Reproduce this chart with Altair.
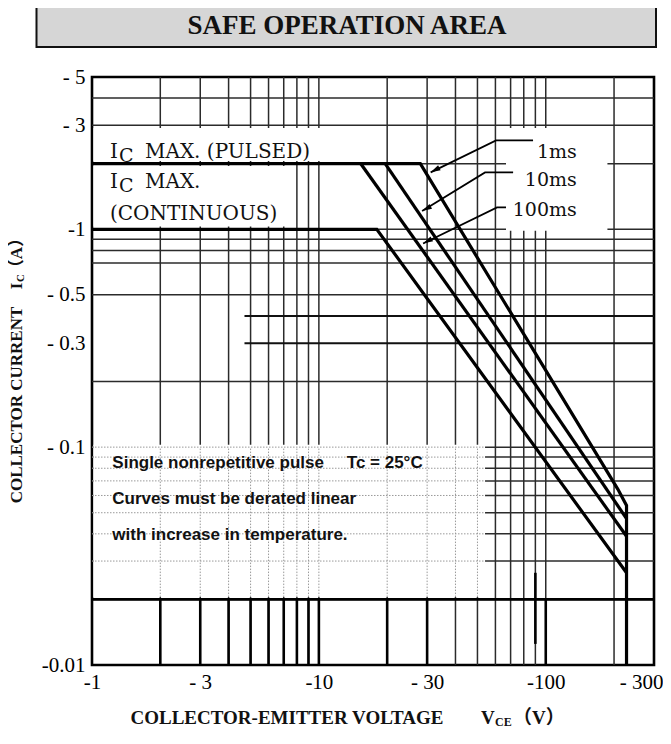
import json
import altair as alt
import pandas as pd

# ---------------- data ----------------
x_ticks = [1, 3, 10, 30, 100, 300]
x_tick_labels = ["-1", "- 3", "-10", "- 30", "-100", "- 300"]
y_ticks = [5, 3, 1, 0.5, 0.3, 0.1, 0.01]
y_tick_labels = ["- 5", "- 3", "-1", "- 0.5", "- 0.3", "- 0.1", "-0.01"]

grid_v = [2, 3, 4, 5, 6, 7, 8, 9, 10, 20, 30, 40, 50, 60, 70, 80, 90, 100, 200]
grid_i = [4, 3, 2, 1, 0.9, 0.8, 0.7, 0.5, 0.2, 0.1, 0.09, 0.08, 0.07, 0.06,
          0.05, 0.04, 0.03, 0.02]
grid_i_partial = [0.4, 0.3]
partial_from_v = 4.7

dotted_v = [2, 3, 4, 5, 6, 7, 8, 9, 10, 20, 30, 40, 50]
dotted_i = [0.1, 0.09, 0.08, 0.07, 0.06, 0.05, 0.04, 0.03]
dotted_v_max = 54
dotted_i_lo, dotted_i_hi = 0.0205, 0.1

heavy_v = [2, 3, 4, 5, 6, 7, 8, 9, 10, 20, 30, 100]
heavy_i = 0.02
stub_v, stub_i0, stub_i1 = 90, 0.0125, 0.0265

# white areas of the sheet (label boxes, dotted note area)
mask_v0 = [1.015, 1.015, 1.015, 66.8]
mask_v1 = [dotted_v_max, 15, 7.6, 187]
mask_i0 = [0.0205, 2.06, 1.03, 0.985]
mask_i1 = [0.1025, 2.92, 1.95, 2.92]

# safe operating area limits
soa_1ms_v = [1, 28, 208, 227, 227]
soa_1ms_i = [2, 2, 0.064, 0.054, 0.01]
soa_10ms_v = [19.6, 227]
soa_10ms_i = [2, 0.047]
soa_100ms_v = [15.3, 227]
soa_100ms_i = [2, 0.039]
soa_dc_v = [1, 18, 227]
soa_dc_i = [1, 1, 0.0265]

# leader lines to the curve labels
lead_names = ["1ms", "10ms", "100ms"]
lead_v = [[87.9, 60.4, 31.1], [71.8, 54.0, 28.5], [66.8, 61.0, 28.8]]
lead_i = [[2.56, 2.56, 1.825], [1.825, 1.825, 1.214], [1.26, 1.26, 0.861]]

label_v = 137
label_i = [2.261, 1.676, 1.221]

ic_v = 1.2
ic_i = [2.261, 1.647, 1.179]

note_v = 1.229
note_i = [0.085, 0.058, 0.0395]
note_text = ["Single nonrepetitive pulse", "Curves must be derated linear",
             "with increase in temperature."]
tc_v = 13.27
tc_text = "Tc = 25°C"

# ---------------- chart ----------------
W, H = 562, 588
xs = alt.Scale(type="log", domain=[1, 300], nice=False)
ys = alt.Scale(type="log", domain=[0.01, 5], nice=False)

xaxis = alt.Axis(values=x_ticks,
                 labelExpr=f"{json.dumps(x_tick_labels)}[indexof({json.dumps(x_ticks)}, datum.value)]",
                 title=None, grid=False, ticks=False, domain=False,
                 labelFont="Liberation Serif", labelFontSize=21, labelColor="black",
                 labelPadding=6, labelFlush=False, labelOverlap=False, labelBaseline="top",
                 labelBound=False,
                 labelAlign=alt.ExprRef(expr=f"datum.value == {x_ticks[-1]} ? 'right' : 'center'"),
                 labelOffset=alt.ExprRef(expr=f"datum.value == {x_ticks[-1]} ? 9 : 0"))
yaxis = alt.Axis(values=y_ticks,
                 labelExpr=f"{json.dumps(y_tick_labels)}[indexof({json.dumps(y_ticks)}, datum.value)]",
                 title=None, grid=False, ticks=False, domain=False,
                 labelFont="Liberation Serif", labelFontSize=21, labelColor="black",
                 labelPadding=7, labelOverlap=False, labelFlush=False)


def X(f):
    return alt.X(f, type="quantitative", scale=xs, axis=xaxis)


def Y(f):
    return alt.Y(f, type="quantitative", scale=ys, axis=yaxis)


vgrid = pd.DataFrame({"V": grid_v, "I0": 0.01, "I1": 5})
hgrid = pd.DataFrame({"I": grid_i, "V0": 1, "V1": 300})
hpart = pd.DataFrame({"I": grid_i_partial, "V0": partial_from_v, "V1": 300})
masks = pd.DataFrame({"V0": mask_v0, "V1": mask_v1, "I0": mask_i0, "I1": mask_i1})
dvg = pd.DataFrame({"V": dotted_v, "I0": dotted_i_lo, "I1": dotted_i_hi})
dhg = pd.DataFrame({"I": dotted_i, "V0": 1, "V1": dotted_v_max})
hv = pd.DataFrame({"V": heavy_v + [stub_v], "I0": [0.01] * len(heavy_v) + [stub_i0],
                   "I1": [heavy_i] * len(heavy_v) + [stub_i1]})
hh = pd.DataFrame({"I": [heavy_i], "V0": [1], "V1": [300]})

rows = []
for name, vv, ii in [("1ms", soa_1ms_v, soa_1ms_i), ("10ms", soa_10ms_v, soa_10ms_i),
                     ("100ms", soa_100ms_v, soa_100ms_i), ("DC", soa_dc_v, soa_dc_i)]:
    for k, (a, b) in enumerate(zip(vv, ii)):
        rows.append({"s": name, "k": k, "V": a, "I": b})
soa = pd.DataFrame(rows)

lrows, tips = [], []
for name, vv, ii in zip(lead_names, lead_v, lead_i):
    for k, (a, b) in enumerate(zip(vv, ii)):
        lrows.append({"s": name, "k": k, "V": a, "I": b})
    tips.append({"s": name, "V": vv[-1], "I": ii[-1]})
lead = pd.DataFrame(lrows)
tip = pd.DataFrame(tips)

lab = pd.DataFrame({"t": lead_names, "V": label_v, "I": label_i})
notes = pd.DataFrame({"t": note_text, "V": note_v, "I": note_i})
tc = pd.DataFrame({"t": [tc_text], "V": [tc_v], "I": [note_i[0]]})
ic_I = pd.DataFrame({"t": ["I", "I"], "V": ic_v, "I": ic_i[:2]})
ic_rest = pd.DataFrame({"t": ["MAX. (PULSED)", "MAX."], "V": ic_v, "I": ic_i[:2]})
ic_cont = pd.DataFrame({"t": ["(CONTINUOUS)"], "V": [ic_v], "I": [ic_i[2]]})

GRID = "#2b2b2b"
SERIF = "DejaVu Serif"

layers = [
    alt.Chart(vgrid).mark_rule(color=GRID, strokeWidth=1.5).encode(x=X("V"), y=Y("I0"), y2="I1"),
    alt.Chart(hgrid).mark_rule(color=GRID, strokeWidth=1.5).encode(y=Y("I"), x=X("V0"), x2="V1"),
    alt.Chart(hpart).mark_rule(color="#111", strokeWidth=2).encode(y=Y("I"), x=X("V0"), x2="V1"),
    alt.Chart(masks).mark_rect(color="white").encode(x=X("V0"), x2="V1", y=Y("I0"), y2="I1"),
    alt.Chart(dvg).mark_rule(color="#9a9a9a", strokeWidth=1, strokeDash=[1.5, 1.5]).encode(
        x=X("V"), y=Y("I0"), y2="I1"),
    alt.Chart(dhg).mark_rule(color="#9a9a9a", strokeWidth=1, strokeDash=[1.5, 1.5]).encode(
        y=Y("I"), x=X("V0"), x2="V1"),
    alt.Chart(hv).mark_rule(color="black", strokeWidth=2.6).encode(x=X("V"), y=Y("I0"), y2="I1"),
    alt.Chart(hh).mark_rule(color="black", strokeWidth=2.6).encode(y=Y("I"), x=X("V0"), x2="V1"),
    alt.Chart(soa).mark_line(color="black", strokeWidth=3.2, strokeJoin="miter").encode(
        x=X("V"), y=Y("I"), detail="s:N", order="k:Q"),
    alt.Chart(lead).mark_line(color="black", strokeWidth=1.8).encode(
        x=X("V"), y=Y("I"), detail="s:N", order="k:Q"),
    alt.Chart(tip).mark_point(shape="M0,0L0.5,1.8L-0.5,1.8Z", filled=True, color="black",
                              opacity=1, size=120, angle=242).encode(x=X("V"), y=Y("I")),
    alt.Chart(lab).mark_text(font=SERIF, fontSize=19, align="right", baseline="middle",
                             color="#111").encode(x=X("V"), y=Y("I"), text="t:N"),
    alt.Chart(ic_I).mark_text(font=SERIF, fontSize=20, align="left", baseline="middle",
                              color="#111").encode(x=X("V"), y=Y("I"), text="t:N"),
    alt.Chart(ic_I).mark_text(font=SERIF, fontSize=19, align="left", baseline="middle",
                              color="#111", dx=9, dy=4).encode(
        x=X("V"), y=Y("I"), text=alt.value("C")),
    alt.Chart(ic_rest).mark_text(font=SERIF, fontSize=20, align="left", baseline="middle",
                                 color="#111", dx=35).encode(x=X("V"), y=Y("I"), text="t:N"),
    alt.Chart(ic_cont).mark_text(font=SERIF, fontSize=20, align="left", baseline="middle",
                                 color="#111").encode(x=X("V"), y=Y("I"), text="t:N"),
    alt.Chart(notes).mark_text(font="Liberation Sans", fontWeight="bold", fontSize=17,
                               align="left", baseline="middle", color="#111").encode(
        x=X("V"), y=Y("I"), text="t:N"),
    alt.Chart(tc).mark_text(font="Liberation Sans", fontWeight="bold", fontSize=17,
                            align="left", baseline="middle", color="#111").encode(
        x=X("V"), y=Y("I"), text="t:N"),
]

one = alt.Data(values=[{}])
# title box
layers.append(alt.Chart(one).mark_rect(fill="#d6d6d6", stroke="#111", strokeWidth=2).encode(
    x=alt.value(-55.5), x2=alt.value(564), y=alt.value(-73.5), y2=alt.value(-30)))
layers.append(alt.Chart(one).mark_text(font="Liberation Serif", fontWeight="bold", fontSize=27,
                                       align="center", baseline="middle", color="#111").encode(
    x=alt.value(255), y=alt.value(-51), text=alt.value("SAFE OPERATION AREA")))

# axis titles
TF = "Liberation Serif, Noto Sans CJK JP"
XT_Y = 641
layers += [
    alt.Chart(one).mark_text(font=TF, fontWeight="bold", fontSize=19, align="left",
                             baseline="middle", color="#111").encode(
        x=alt.value(38.5), y=alt.value(XT_Y), text=alt.value("COLLECTOR-EMITTER VOLTAGE")),
    alt.Chart(one).mark_text(font=TF, fontWeight="bold", fontSize=19, align="left",
                             baseline="middle", color="#111").encode(
        x=alt.value(389), y=alt.value(XT_Y), text=alt.value("V")),
    alt.Chart(one).mark_text(font=TF, fontWeight="bold", fontSize=12, align="left",
                             baseline="middle", color="#111").encode(
        x=alt.value(403), y=alt.value(XT_Y + 4), text=alt.value("CE")),
    alt.Chart(one).mark_text(font=TF, fontWeight="bold", fontSize=19, align="left",
                             baseline="middle", color="#111").encode(
        x=alt.value(421), y=alt.value(XT_Y), text=alt.value("（V）")),
    alt.Chart(one).mark_text(font=TF, fontWeight="bold", fontSize=17, align="center",
                             baseline="middle", angle=270, color="#111").encode(
        x=alt.value(-75), y=alt.value(328), text=alt.value("COLLECTOR CURRENT")),
    alt.Chart(one).mark_text(font=TF, fontWeight="bold", fontSize=17, align="center",
                             baseline="middle", angle=270, color="#111").encode(
        x=alt.value(-75), y=alt.value(209), text=alt.value("I")),
    alt.Chart(one).mark_text(font=TF, fontWeight="bold", fontSize=11, align="center",
                             baseline="middle", angle=270, color="#111").encode(
        x=alt.value(-71), y=alt.value(201), text=alt.value("C")),
    alt.Chart(one).mark_text(font=TF, fontWeight="bold", fontSize=17, align="center",
                             baseline="middle", angle=270, color="#111").encode(
        x=alt.value(-75), y=alt.value(176), text=alt.value("（A）")),
]

chart = alt.layer(*layers).properties(
    width=W, height=H,
    autosize=alt.AutoSizeParams(type="none"),
    padding={"left": 84, "top": 69, "right": 9, "bottom": 66},
    background="white",
).configure_view(stroke="black", strokeWidth=2.6)

chart.save("out.html", embed_options={"renderer": "svg", "actions": False})
